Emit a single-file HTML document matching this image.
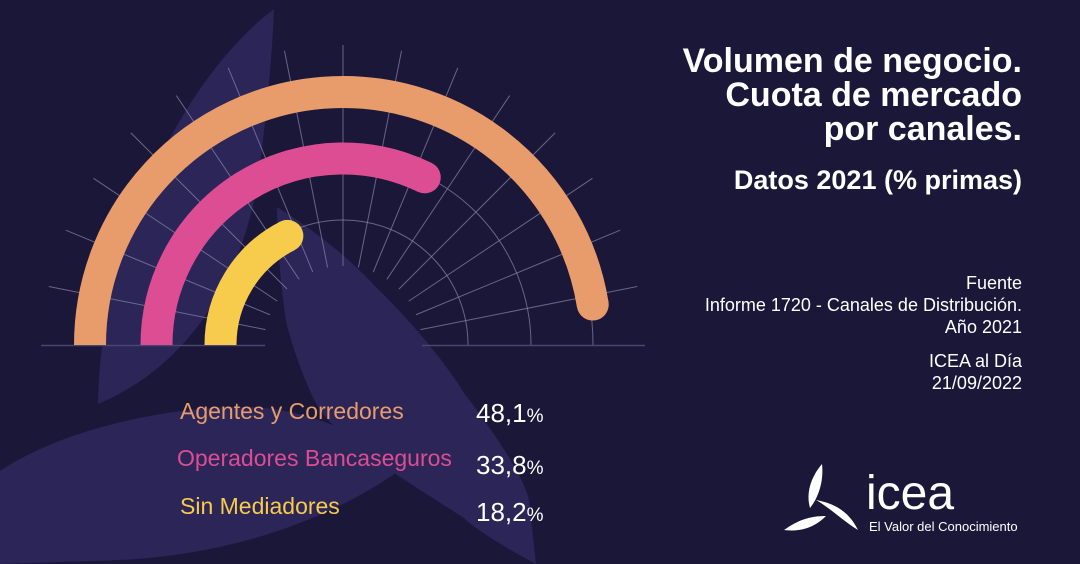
<!DOCTYPE html>
<html><head><meta charset="utf-8"><style>
body{margin:0;width:1080px;height:564px;overflow:hidden;background:#1b1739;font-family:"Liberation Sans",sans-serif;}
.t{position:absolute;color:#fff;white-space:nowrap;}
</style></head><body>
<svg width="1080" height="564" style="position:absolute;left:0;top:0">
<g fill="#2b2558">
<path d="M274 9 C180 80 100 250 98 404 C180 370 240 290 258 180 C266 120 272 60 274 9 Z"/>
<path d="M0 471 C60 430 170 405 250 407 C320 410 370 440 400 470 C330 520 230 555 120 560 L0 564 Z"/>
<path d="M277 207 C330 240 360 270 375 286 C420 330 450 370 464 393 C500 440 525 480 529 500 L536 564 C500 545 470 525 464 518 C420 490 380 465 357 446 C330 425 318 410 311 393 C296 360 288 330 286 321 C280 280 277 240 277 207 Z"/>
</g>
<g stroke="#8a86a8" stroke-width="1" fill="none" opacity="0.7">
<path d="M218 345 A125 125 0 0 1 468 345"/>
<path d="M155 345 A188 188 0 0 1 531 345"/>
<path d="M93 345 A250 250 0 0 1 593 345"/>
</g>
<g stroke="#8a86a8" stroke-width="1" opacity="0.7" id="rays"></g>
<line x1="41" y1="345.5" x2="265" y2="345.5" stroke="#4a4670" stroke-width="1.5"/>
<line x1="422" y1="345.5" x2="645" y2="345.5" stroke="#4a4670" stroke-width="1.5"/>
<g fill="none" stroke-width="32">
<path id="o" stroke="#e89c6c"/>
<path id="p" stroke="#dd4d93"/>
<path id="y" stroke="#f7cb4c"/>
</g>
<g id="caps"></g>
</svg>
<script>
var cx=343,cy=345;
var g=document.getElementById('rays'),s='';
for(var i=1;i<16;i++){var a=i*Math.PI/16,c=Math.cos(a),n=Math.sin(a);
s+='<line x1="'+(cx+79*c)+'" y1="'+(cy-79*n)+'" x2="'+(cx+300*c)+'" y2="'+(cy-300*n)+'"/>';}
g.innerHTML=s;
var caps='';
function arc(id,r,endDeg,col){var e=endDeg*Math.PI/180,ex=cx+r*Math.cos(e),ey=cy-r*Math.sin(e);
document.getElementById(id).setAttribute('d','M'+(cx-r)+' '+cy+' A'+r+' '+r+' 0 0 1 '+ex+' '+ey);
caps+='<circle cx="'+ex+'" cy="'+ey+'" r="16" fill="'+col+'"/>';}
arc('o',253,9.2,'#e89c6c');arc('p',186.5,64,'#dd4d93');arc('y',122.5,117,'#f7cb4c');
document.getElementById('caps').innerHTML=caps;
</script>
<div class="t" style="right:58px;top:44px;font-size:34px;font-weight:bold;line-height:34px;text-align:right">Volumen de negocio.<br>Cuota de mercado<br>por canales.</div>
<div class="t" style="right:58px;top:165px;font-size:27px;font-weight:bold;text-align:right">Datos 2021 (% primas)</div>
<div class="t" style="right:58px;top:272px;font-size:18px;line-height:22px;text-align:right">Fuente<br>Informe 1720 - Canales de Distribución.<br>Año 2021</div>
<div class="t" style="right:58px;top:350px;font-size:18px;line-height:22px;text-align:right">ICEA al Día<br>21/09/2022</div>
<div class="t" style="left:180px;top:398px;font-size:23px;color:#e89c6c">Agentes y Corredores</div>
<div class="t" style="left:177px;top:445px;font-size:23px;color:#dd4d93">Operadores Bancaseguros</div>
<div class="t" style="left:180px;top:493px;font-size:23px;color:#f7cb4c">Sin Mediadores</div>
<div class="t" style="left:476px;top:398px;font-size:26px">48,1<span style="font-size:19px">%</span></div>
<div class="t" style="left:476px;top:450px;font-size:26px">33,8<span style="font-size:19px">%</span></div>
<div class="t" style="left:476px;top:497px;font-size:26px">18,2<span style="font-size:19px">%</span></div>
<svg width="90" height="80" style="position:absolute;left:780px;top:458px" viewBox="0 0 90 80">
<path d="M42 6 C30 20 26 36 30 50 C38 40 44 24 42 6 Z" fill="#fff"/>
<path d="M36 42 C50 50 62 62 78 72 C70 56 58 46 36 42 Z" fill="#fff"/>
<path d="M4 72 C18 62 30 58 46 58 C34 70 20 74 4 72 Z" fill="#fff"/>
</svg>
<div class="t" style="left:866px;top:470px;font-size:48px;line-height:48px">icea</div>
<div class="t" style="left:869px;top:519px;font-size:13px">El Valor del Conocimiento</div>
</body></html>
